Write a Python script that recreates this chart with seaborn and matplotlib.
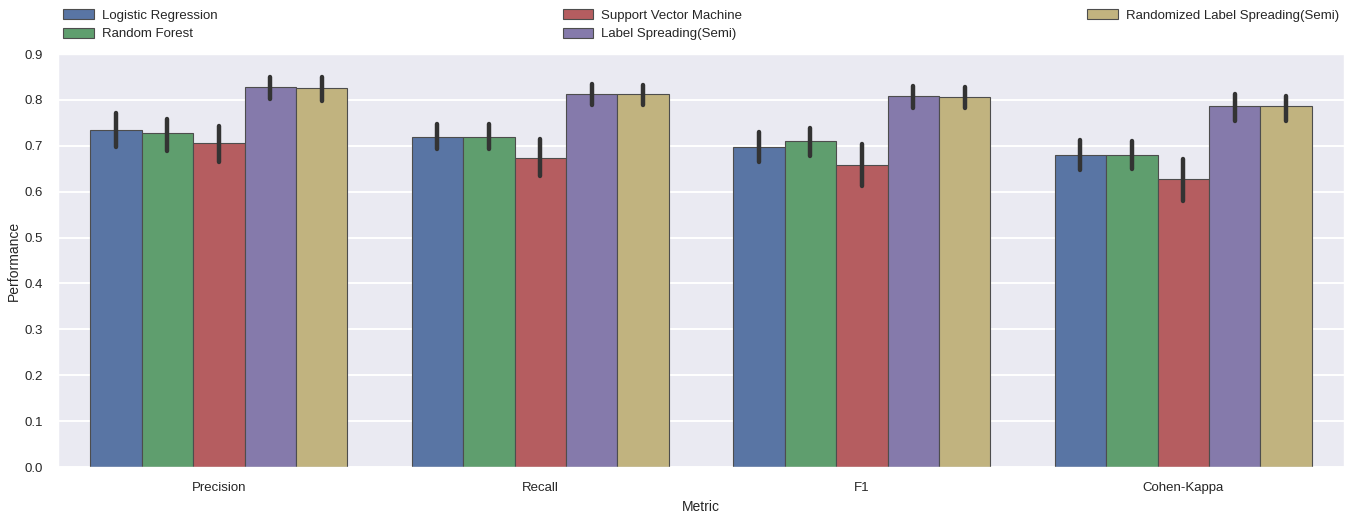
import numpy as np
import pandas as pd
import matplotlib
matplotlib.use('Agg')
import matplotlib.pyplot as plt
import seaborn as sns

metrics = ['Precision', 'Recall', 'F1', 'Cohen-Kappa']
models = ['Logistic Regression', 'Random Forest', 'Support Vector Machine',
          'Label Spreading(Semi)', 'Randomized Label Spreading(Semi)']

# bar height, lower and upper end of the error bar, per model
lr_mean = [0.734, 0.720, 0.698, 0.681]
lr_lo = [0.697, 0.692, 0.665, 0.648]
lr_hi = [0.771, 0.748, 0.729, 0.712]

rf_mean = [0.728, 0.720, 0.710, 0.681]
rf_lo = [0.688, 0.693, 0.677, 0.649]
rf_hi = [0.759, 0.748, 0.739, 0.710]

svm_mean = [0.706, 0.674, 0.658, 0.628]
svm_lo = [0.664, 0.634, 0.612, 0.580]
svm_hi = [0.743, 0.715, 0.703, 0.672]

ls_mean = [0.828, 0.813, 0.808, 0.786]
ls_lo = [0.801, 0.789, 0.783, 0.754]
ls_hi = [0.851, 0.834, 0.830, 0.812]

rls_mean = [0.826, 0.813, 0.807, 0.786]
rls_lo = [0.798, 0.789, 0.782, 0.755]
rls_hi = [0.849, 0.832, 0.828, 0.808]

series = {
    models[0]: (lr_lo, lr_mean, lr_hi),
    models[1]: (rf_lo, rf_mean, rf_hi),
    models[2]: (svm_lo, svm_mean, svm_hi),
    models[3]: (ls_lo, ls_mean, ls_hi),
    models[4]: (rls_lo, rls_mean, rls_hi),
}

# long table: median gives the bar, min/max give the error bar
rows = []
for model, (lo, mean, hi) in series.items():
    for i, m in enumerate(metrics):
        for v in (lo[i], mean[i], hi[i]):
            rows.append({'Metric': m, 'Model': model, 'Performance': v})
df = pd.DataFrame(rows)

sns.set_theme(style='darkgrid', context='paper', palette='deep6')
plt.rcParams['font.family'] = ['Liberation Sans', 'DejaVu Sans']

fig = plt.figure(figsize=(13.63, 5.14), dpi=100)
ax = fig.add_axes([0.0426, 0.0914, 0.9435, 0.8035])

sns.barplot(data=df, x='Metric', y='Performance', hue='Model',
            order=metrics, hue_order=models, palette='deep6',
            estimator='median', errorbar=('pi', 100),
            err_kws={'color': '.2', 'linewidth': 3.2},
            edgecolor='.3', linewidth=0.8, saturation=0.75, ax=ax)

ax.set_ylim(0, 0.9)
ax.set_yticks(np.arange(0, 0.91, 0.1))
ax.set_yticklabels(['{:.1f}'.format(t) for t in np.arange(0, 0.91, 0.1)])
ax.tick_params(labelsize=9.5, pad=6)
ax.set_xlabel('Metric', fontsize=10)
ax.set_ylabel('Performance', fontsize=10, labelpad=3)
ax.xaxis.grid(False)
ax.yaxis.grid(True, color='white', linewidth=1.4)

ax.legend(loc='lower left', bbox_to_anchor=(0, 1.02, 1, 0.1), ncol=3,
          mode='expand', frameon=False, fontsize=9.5, borderaxespad=0,
          handlelength=2.3, handleheight=0.8, handletextpad=0.6,
          labelspacing=0.45)

fig.savefig('out.png', dpi=100)
